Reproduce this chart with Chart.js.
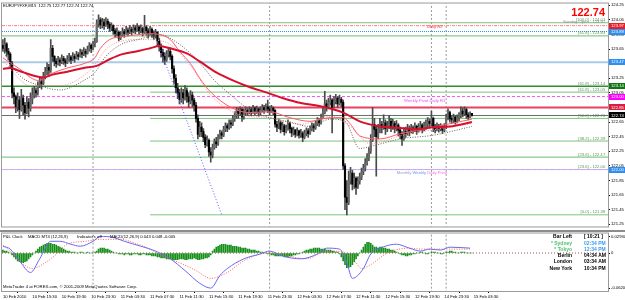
<!DOCTYPE html>
<html><head><meta charset="utf-8">
<script src="https://cdn.jsdelivr.net/npm/chart.js@4.4.1/dist/chart.umd.min.js"></script>
<style>
html,body{margin:0;padding:0;background:#fff;width:625px;height:300px;overflow:hidden}
#main{position:absolute;left:0;top:0}
#macd{position:absolute;left:0;top:230px}
</style></head><body>
<canvas id="main" width="625" height="230"></canvas>
<canvas id="macd" width="625" height="70"></canvas>
<script>
// ---------- DATA ----------
const firstOpen = 123.70;
const closes = [
123.66,123.72,123.62,123.58,123.45,123.05,123.00,122.86,
122.95,122.82,122.98,122.88,122.78,122.92,122.84,122.96,123.02,
123.08,123.05,123.15,123.20,123.18,123.28,
123.34,123.40,123.36,123.66,123.55,
123.48,123.45,123.50,123.47,123.52,123.49,123.46,123.51,123.54,123.50,123.55,123.52,123.57,123.55,123.60,123.58,123.62,123.59,123.64,
123.70,123.66,123.72,123.75,
124.00,124.05,123.98,
124.02,123.97,124.03,123.99,123.94,123.97,
123.90,123.86,123.88,123.80,123.84,123.89,123.86,123.91,123.88,123.92,
123.89,123.94,123.91,123.95,123.90,123.93,123.88,
123.95,
123.90,123.86,123.92,123.87,123.83,123.88,
123.76,123.68,123.60,123.55,123.50,
123.58,123.62,123.55,
123.38,123.25,123.12,123.05,122.96,
123.05,122.98,123.08,123.00,122.93,123.02,122.95,122.88,
122.70,122.48,122.58,
122.52,122.44,122.34,122.40,122.24,122.20,122.30,
122.38,122.35,122.44,122.50,122.47,122.55,122.60,122.57,122.64,122.62,122.70,122.74,
122.80,122.76,122.82,122.72,122.78,122.81,
122.78,122.82,122.79,122.84,122.80,122.83,122.78,122.81,122.85,122.82,122.86,122.83,122.80,122.84,122.81,
122.62,
122.58,122.64,122.55,122.60,122.52,122.57,122.63,122.56,122.50,122.54,122.48,122.53,122.47,122.50,
122.44,
122.50,122.53,122.49,122.56,122.60,122.57,122.63,122.67,122.64,122.72,122.78,122.90,122.85,122.92,
122.95,122.85,122.93,122.98,122.90,122.96,122.92,
122.05,121.62,121.55,
121.85,121.95,121.80,121.88,121.76,
121.84,121.90,121.97,122.02,122.10,122.16,122.25,
122.40,122.62,122.55,122.45,
122.55,122.62,122.58,122.64,122.56,122.60,122.66,122.59,122.63,122.57,122.61,122.54,
122.48,122.42,122.52,122.49,122.56,
122.52,122.57,122.54,122.59,122.53,122.58,122.61,122.56,122.60,
122.62,122.66,122.63,122.70,
122.58,122.55,122.60,122.56,122.59,122.54,122.58,
122.72,122.78,122.70,
122.68,122.72,122.66,122.71,122.74,
122.80,122.76,122.82,
122.75,122.72,122.77,122.74];
const highs = [
123.78,123.80,123.74,123.66,123.60,123.48,123.12,123.02,
123.05,123.00,123.10,123.02,122.92,123.00,122.97,123.05,123.12,
123.14,123.12,123.20,123.25,123.26,123.33,
123.40,123.46,123.44,123.78,123.70,
123.56,123.52,123.55,123.53,123.57,123.55,123.52,123.56,123.59,123.56,123.60,123.58,123.62,123.60,123.65,123.64,123.67,123.65,123.69,
123.74,123.72,123.76,123.80,
124.05,124.12,124.08,
124.07,124.06,124.08,124.06,124.02,124.01,
123.98,123.93,123.94,123.90,123.89,123.94,123.92,123.96,123.94,123.97,
123.95,123.98,123.97,124.00,123.97,123.98,123.95,
124.11,
123.97,123.93,123.96,123.94,123.90,123.92,
123.89,123.80,123.72,123.65,123.60,
123.63,123.67,123.66,
123.57,123.42,123.30,123.18,123.10,
123.12,123.10,123.15,123.12,123.05,123.08,123.06,122.98,
122.92,122.75,122.66,
122.64,122.56,122.48,122.46,122.42,122.30,122.35,
122.42,122.44,122.48,122.54,122.53,122.59,122.64,122.63,122.68,122.68,122.74,122.79,
122.85,122.84,122.86,122.84,122.83,122.86,
122.84,122.86,122.85,122.88,122.86,122.87,122.84,122.86,122.89,122.88,122.90,122.95,122.87,122.88,122.86,
122.82,
122.66,122.69,122.66,122.65,122.62,122.61,122.68,122.65,122.58,122.58,122.55,122.57,122.54,122.55,
122.52,
122.54,122.57,122.56,122.60,122.64,122.63,122.67,122.71,122.70,122.76,122.84,123.07,122.95,122.98,
123.02,122.97,123.00,123.03,123.00,123.02,122.99,
122.95,122.08,121.85,
121.98,122.03,121.99,121.95,121.90,
121.90,121.95,122.02,122.07,122.15,122.22,122.30,
122.48,122.85,122.70,122.60,
122.62,122.70,122.66,122.75,122.68,122.66,122.74,122.70,122.69,122.66,122.67,122.63,
122.58,122.52,122.57,122.58,122.62,
122.60,122.62,122.60,122.64,122.61,122.63,122.66,122.63,122.65,
122.68,122.71,122.69,122.80,
122.72,122.62,122.64,122.62,122.63,122.61,122.63,
122.76,122.83,122.80,
122.74,122.76,122.74,122.75,122.78,
122.86,122.84,122.86,
122.84,122.78,122.79,122.77];
const lows = [
123.62,123.60,123.55,123.50,123.40,122.98,122.90,122.78,
122.80,122.70,122.80,122.75,122.69,122.76,122.72,122.80,122.90,
122.98,122.99,123.02,123.12,123.10,123.16,
123.24,123.30,123.28,123.33,123.48,
123.42,123.40,123.43,123.42,123.45,123.44,123.41,123.45,123.48,123.45,123.49,123.47,123.51,123.50,123.54,123.53,123.56,123.54,123.58,
123.62,123.60,123.64,123.68,
123.74,123.95,123.93,
123.94,123.92,123.96,123.93,123.89,123.90,
123.85,123.82,123.83,123.76,123.78,123.82,123.81,123.85,123.83,123.86,
123.84,123.87,123.86,123.89,123.85,123.87,123.83,
123.86,
123.84,123.80,123.84,123.81,123.78,123.80,
123.70,123.62,123.54,123.47,123.44,
123.48,123.54,123.50,
123.32,123.18,123.05,122.97,122.90,
122.92,122.90,122.95,122.92,122.85,122.90,122.86,122.80,
122.65,122.42,122.45,
122.45,122.38,122.30,122.32,122.18,122.10,122.16,
122.28,122.30,122.33,122.42,122.42,122.45,122.52,122.52,122.55,122.57,122.60,122.66,
122.70,122.70,122.74,122.66,122.69,122.74,
122.74,122.76,122.74,122.77,122.75,122.77,122.73,122.75,122.79,122.77,122.80,122.78,122.75,122.78,122.75,
122.58,
122.52,122.56,122.50,122.52,122.47,122.50,122.54,122.50,122.45,122.47,122.44,122.46,122.43,122.44,
122.38,
122.42,122.46,122.44,122.48,122.53,122.52,122.55,122.60,122.59,122.62,122.70,122.76,122.80,122.83,
122.88,122.50,122.84,122.90,122.85,122.88,122.86,
122.00,121.45,121.38,
121.52,121.80,121.72,121.74,121.66,
121.74,121.80,121.86,121.93,121.98,122.06,122.12,
122.22,122.38,122.45,121.91,
122.42,122.50,122.50,122.55,122.48,122.52,122.56,122.52,122.55,122.50,122.53,122.46,
122.42,122.33,122.40,122.44,122.47,
122.46,122.50,122.49,122.52,122.48,122.51,122.54,122.50,122.53,
122.55,122.58,122.57,122.60,
122.52,122.50,122.53,122.51,122.53,122.49,122.52,
122.56,122.68,122.65,
122.63,122.64,122.62,122.64,122.67,
122.71,122.72,122.74,
122.70,122.68,122.71,122.73];

// moving averages (at these bars)
const maSlowBars = [0,4,9,16,22,27,35,44,51,58,65,73,80,85,91,100,107,116,125,134,144,152,162,172,185,194,205,216,225,234,243,255];
const maSlowVals = [123.38,123.39,123.35,123.29,123.26,123.30,123.34,123.39,123.42,123.51,123.58,123.62,123.66,123.69,123.66,123.59,123.48,123.33,123.22,123.13,123.05,122.98,122.91,122.87,122.78,122.66,122.59,122.57,122.55,122.58,122.59,122.65];
const maFastBars = [0,4,9,15,19,26,35,44,50,53,58,65,75,80,85,91,96,102,107,113,124,134,145,156,167,178,185,189,194,205,216,234,255];
const maFastVals = [123.53,123.46,123.38,123.26,123.22,123.31,123.39,123.45,123.53,123.66,123.78,123.82,123.85,123.86,123.85,123.78,123.62,123.45,123.25,123.06,122.85,122.78,122.79,122.71,122.66,122.71,122.71,122.62,122.46,122.42,122.49,122.58,122.69];
const maGreyBars = [0,9,20,31,44,50,56,64,75,85,94,102,107,115,124,134,145,156,167,178,186,194,202,216,234,255];
const maGreyVals = [123.62,123.29,123.15,123.09,123.22,123.33,123.55,123.71,123.79,123.85,123.75,123.59,123.46,123.22,123.02,122.82,122.71,122.65,122.59,122.69,122.66,122.29,122.33,122.42,122.47,122.59];
const maPinkBars = [0,15,31,47,58,75,88,102,113,129,145,162,178,189,200,216,255];
const maPinkVals = [123.49,123.15,123.15,123.35,123.69,123.78,123.75,123.42,123.02,122.75,122.71,122.62,122.73,122.59,122.35,122.46,122.63];

// horizontal levels
const levelPrices = [123.97,123.89,123.83,123.47,123.14,123.00,122.85,122.74,122.17,122.00];
const fiboPrices = [124.01,123.06,122.70,122.39,122.00,121.38];
const fiboStartBar = 80;
const fiboLabelValues = [124.01,123.83,123.14,123.06,122.70,122.39,122.17,122.00,121.38];
const fiboLabelTexts = ['[100.0] - 124.01','[61.8] - 123.83','[61.8] - 123.14','[61.8] - 123.05','[50.0] - 122.70','[38.2] - 122.39','[23.6] - 122.17','[23.6] - 122.00','[0.0] - 121.38'];
const boxValues = [123.97,123.89,123.47,123.14,123.00,122.85,122.74,122.00];
const boxTexts = ['123.97','123.89','123.47','123.14','123.00','122.85','122.74','122.00'];
const trendBars = [84,119];
const trendPrices = [123.75,121.38];
const sepBars = [49,145,233,241];

const priceTicks = [124.25,124.05,123.85,123.65,123.45,123.25,123.05,122.85,122.65,122.45,122.25,122.05,121.85,121.65,121.45,121.25];
const timeTickBars = [0,16,32,48,64,80,96,112,128,144,160,176,192,208,224,240,256];
const timeLabels = ['10 Feb 2010','10 Feb 15:30','10 Feb 19:30','10 Feb 23:30','11 Feb 03:30','11 Feb 07:30','11 Feb 11:30','11 Feb 15:30','11 Feb 19:30','11 Feb 23:30','12 Feb 03:30','12 Feb 07:30','12 Feb 11:30','12 Feb 15:30','12 Feb 19:30','14 Feb 23:30','15 Feb 03:30'];

// MACD
const macdHist = [
0.0052,0.0034,0.0034,0.0017,0,
-0.0034,-0.0069,-0.0103,-0.0138,-0.0155,-0.0172,-0.0172,-0.0155,-0.0138,-0.0103,-0.0069,-0.0034,
0,0.0034,0.0069,0.0103,0.012,0.0138,0.0155,0.0172,0.0172,0.0172,0.0155,0.0155,0.0138,0.012,0.0103,0.0086,0.0069,0.0052,0.0034,
0.0034,0.0017,0.0017,0.0017,0,0,0.0017,0.0017,0,0,0.0017,0,0,0,0.0017,
0.0034,0.0069,0.0086,0.0086,0.0086,0.0069,0.0069,0.0052,0.0034,0.0017,
0,0,-0.0017,-0.0017,-0.0017,-0.0034,-0.0017,-0.0017,-0.0034,-0.0034,-0.0017,-0.0017,-0.0017,-0.0034,-0.0034,-0.0017,-0.0017,-0.0034,-0.0034,-0.0034,-0.0052,-0.0052,-0.0052,-0.0069,-0.0069,
-0.0086,-0.0086,-0.0086,-0.0103,-0.0103,-0.0103,-0.012,-0.012,-0.012,-0.012,-0.0103,-0.0103,-0.0103,-0.012,-0.012,-0.0103,-0.0103,-0.0103,-0.0086,-0.0103,-0.012,-0.012,-0.0103,-0.0103,-0.0086,-0.0086,-0.0069,-0.0034,
0.0034,0.0069,0.0103,0.012,0.0138,0.0155,0.0155,0.0155,0.0138,0.0138,0.0138,0.012,0.012,0.012,0.0103,0.0103,0.0086,0.0086,0.0086,0.0069,0.0069,0.0052,0.0052,0.0052,0.0034,0.0034,0.0017,
0.0017,0,0,-0.0017,-0.0017,-0.0034,-0.0034,-0.0052,-0.0052,-0.0052,
-0.0052,-0.0052,-0.0069,-0.0069,-0.0069,-0.0052,-0.0052,-0.0034,-0.0034,-0.0017,-0.0017,0,
0.0017,0.0034,0.0052,0.0052,0.0069,0.0069,0.0086,0.0086,0.0086,0.0086,0.0069,0.0069,0.0069,0.0052,0.0052,0.0052,0.0034,0.0034,0.0017,0.0017,
-0.0017,-0.0069,-0.0138,-0.0207,-0.0258,-0.0258,-0.0241,-0.0207,-0.0155,
-0.0103,-0.0052,0,0.0052,0.0103,0.0155,0.0189,0.0189,
0.0172,0.0138,0.0103,0.0103,0.0086,0.0103,0.0103,0.0086,0.0086,0.0069,0.0069,0.0052,0.0052,
0.0034,0.0017,0,-0.0017,-0.0034,-0.0034,-0.0052,-0.0052,-0.0034,-0.0034,-0.0017,-0.0017,0,
0,0.0017,0.0017,0,-0.0017,-0.0017,0,0.0017,0.0017,0.0017,0,0,-0.0017,-0.0017,0,0.0017,0.0017,0.0034,0.0034,0.0017,0.0017,0,0,0.0017,0.0017,0.0017,0,0,0,0];
const macdBars = [0,4,9,15,20,26,31,37,42,49,53,60,66,75,83,91,99,107,113,118,122,131,140,145,152,162,171,176,183,187,190,196,200,208,214,221,227,232,238,243,254];
const macdMain = [0.012,0.0069,-0.0138,-0.0344,-0.0103,0.0207,0.0207,0.0155,0.012,0.0207,0.0293,0.0275,0.0207,0.012,0.0034,-0.0103,-0.031,-0.0534,-0.062,-0.0396,-0.0275,-0.0103,-0.0017,0.0034,-0.0052,-0.0103,-0.0017,0.0086,0.0069,-0.0172,-0.0448,-0.0275,-0.0017,0.012,0.0155,0.0086,0.0034,0.0069,0.0052,0.0103,0.0086];
const signalBars = [0,4,9,16,23,28,35,45,53,64,72,80,88,96,105,113,122,131,144,155,165,176,185,192,195,200,209,221,227,238,254];
const signalVals = [0.0138,0.0034,-0.0138,-0.0275,-0.0172,-0.0052,0.0155,0.0207,0.0241,0.0241,0.0172,0.0069,-0.0069,-0.0172,-0.031,-0.0448,-0.0344,-0.0138,0,-0.0052,-0.0103,0.0034,0.0017,-0.0172,-0.0275,-0.0207,0,0.0086,0.0069,0.0069,0.0069];
const macdTicks = [0.0293,0,-0.062];
const macdTickLabels = ['0.029300','0','-0.062000'];

const cityNames = ['Bar Left','* Sydney','* Tokyo','Berlin','London','New York'];
const cityTimes = ['[ 10:21 ]','02:34 PM','12:34 PM','04:34 AM','03:34 AM','10:34 PM'];

// ---------- BUILD ----------
const FONT = '"Liberation Sans", Arial, sans-serif';
const X_MIN = -0.5, X_MAX = 329;
const opens = closes.map((c, i) => i === 0 ? firstOpen : closes[i - 1]);
const wickData = closes.map((c, i) => ({x: i, y: [Math.min(lows[i], opens[i], c), Math.max(highs[i], opens[i], c)]}));
const bodyData = closes.map((c, i) => ({x: i, y: [Math.min(opens[i], c), Math.max(opens[i], c)]}));
const bodyColors = closes.map((c, i) => c >= opens[i] ? '#6a6a6a' : '#000000');
const pts = (bars, vals) => bars.map((b, k) => ({x: b, y: vals[k]}));
const hline = (p, from) => [{x: from, y: p}, {x: X_MAX, y: p}];

const levelStyles = [
  {c:'#ff7b8a', w:1, d:[3,1,1,1]},
  {c:'#3d8ef0', w:1, d:[1,1]},
  {c:'#6cbf6c', w:1, d:[]},
  {c:'#a9cbe6', w:2, d:[]},
  {c:'#2f8f2f', w:1.5, d:[]},
  {c:'#ff55ff', w:1, d:[3,2]},
  {c:'#e8405e', w:2, d:[]},
  {c:'#6a6a6a', w:1, d:[]},
  {c:'#6cbf6c', w:1, d:[]},
  {c:'#ff99ee', w:1, d:[3,3]}
];
const boxStyles = ['#ee1c24','#2b8ef0','#2b8ef0','#117711','#ff00ff','#d81e40','#000000','#2b8ef0'];

const lineDs = (data, color, width, dash, order, extra) => Object.assign({
  type: 'line', data, borderColor: color, borderWidth: width, borderDash: dash,
  pointRadius: 0, fill: false, order, tension: 0
}, extra || {});

const mainDatasets = [];
mainDatasets.push(lineDs(pts(maSlowBars, maSlowVals), '#d8102e', 2, [], 0, {cubicInterpolationMode: 'monotone'}));
mainDatasets.push(lineDs(pts(maFastBars, maFastVals), '#ff5a6a', 1, [], 0, {cubicInterpolationMode: 'monotone'}));
mainDatasets.push(lineDs(pts(maGreyBars, maGreyVals), '#606060', 1, [1,1.5], 0, {cubicInterpolationMode: 'monotone'}));
mainDatasets.push(lineDs(pts(maPinkBars, maPinkVals), '#ff8d8d', 1, [1,1.5], 0, {cubicInterpolationMode: 'monotone'}));
mainDatasets.push(lineDs(pts(trendBars, trendPrices), '#5a5aff', 1, [1,2], 1));
mainDatasets.push({type: 'bar', data: bodyData, backgroundColor: bodyColors, barThickness: 1.5, grouped: false, order: 2});
mainDatasets.push({type: 'bar', data: wickData, backgroundColor: '#4a4a4a', barThickness: 1, grouped: false, order: 3});
levelPrices.forEach((p, k) => {
  const s = levelStyles[k];
  mainDatasets.push(lineDs(hline(p, X_MIN), s.c, s.w, s.d, 4));
});
mainDatasets.push(lineDs(hline(levelPrices[9], X_MIN), '#99bbff', 1, [3,3], 4, {borderDashOffset: 3}));
fiboPrices.forEach(p => mainDatasets.push(lineDs(hline(p, fiboStartBar), '#7cc47c', 1, [], 4)));
sepBars.forEach(b => mainDatasets.push(lineDs([{x: b, y: 121.2}, {x: b, y: 124.3}], '#9a9a9a', 1, [2,2], 5)));

function txt(ctx, s, x, y, font, color, align, base) {
  ctx.font = font; ctx.fillStyle = color;
  ctx.textAlign = align || 'left'; ctx.textBaseline = base || 'middle';
  ctx.fillText(s, x, y);
}

const mainOverlay = {
  id: 'mainOverlay',
  beforeDraw(chart) {
    const c = chart.ctx; c.save(); c.fillStyle = '#fff'; c.fillRect(0, 0, chart.width, chart.height); c.restore();
  },
  afterDraw(chart) {
    const ctx = chart.ctx, a = chart.chartArea, xs = chart.scales.x, ys = chart.scales.y;
    ctx.save();
    ctx.strokeStyle = '#9a9a9a'; ctx.lineWidth = 1;
    ctx.strokeRect(a.left - 0.5, a.top - 0.5, a.right - a.left + 1, a.bottom - a.top + 1);
    const small = '4.2px ' + FONT;
    // fibo labels
    const fx = xs.getPixelForValue(327.5);
    fiboLabelValues.forEach((v, k) => txt(ctx, fiboLabelTexts[k], fx, ys.getPixelForValue(v) - 0.5, small, '#5c965c', 'right', 'bottom'));
    // pivot texts
    txt(ctx, 'Daily R2', xs.getPixelForValue(230.5), ys.getPixelForValue(123.955), small, '#ff3030', 'left');
    txt(ctx, 'Weekly Pivot Daily R1', xs.getPixelForValue(240.5), ys.getPixelForValue(122.94), small, '#ff40ff', 'right');
    {
      const parts = [['Monthly ', '#9a9ac8'], ['Weekly ', '#6d8ff0'], ['Daily Pivot', '#ff66dd']];
      ctx.font = small;
      let total = parts.reduce((s, p) => s + ctx.measureText(p[0]).width, 0);
      let px = xs.getPixelForValue(241.5) - total;
      const py = ys.getPixelForValue(121.955);
      parts.forEach(p => { txt(ctx, p[0], px, py, small, p[1], 'left'); px += ctx.measureText(p[0]).width; });
    }
    // caption
    txt(ctx, 'EURJPYFXF,M15  122.75 122.77 122.74 122.74', 3, 5.5, small, '#000', 'left');
    txt(ctx, 'Sunday Open - 123.97', fx, 21.5, small, '#8a8a8a', 'right');
    txt(ctx, '122.74', 605, 13, 'bold 11px ' + FONT, '#ff0000', 'right');
    // right axis boxes
    boxValues.forEach((v, k) => {
      const py = ys.getPixelForValue(v);
      ctx.fillStyle = boxStyles[k];
      ctx.fillRect(a.right + 1, Math.round(py) - 3, 17, 6);
      txt(ctx, boxTexts[k], a.right + 3, py, small, '#ffffff', 'left');
    });
    ctx.restore();
  }
};

new Chart(document.getElementById('main'), {
  type: 'line',
  data: {datasets: mainDatasets},
  options: {
    responsive: false, animation: false, devicePixelRatio: 1, events: [],
    layout: {padding: {left: 2, top: 1, right: 0, bottom: 0}},
    plugins: {legend: {display: false}, tooltip: {enabled: false}},
    scales: {
      x: {type: 'linear', min: X_MIN, max: X_MAX, offset: false, display: false},
      y: {
        position: 'right', min: 121.2203, max: 124.2733,
        afterFit(ax) { ax.width = 17; },
        afterBuildTicks(ax) { ax.ticks = priceTicks.map(v => ({value: v})); },
        ticks: {font: {size: 4.2, family: FONT}, color: '#000', padding: 1, autoSkip: false, callback: v => Number(v).toFixed(2)},
        grid: {display: true, drawOnChartArea: false, tickLength: 2, color: '#000'},
        border: {display: true, color: '#666'}
      }
    }
  },
  plugins: [mainOverlay]
});

// ---------- MACD ----------
const macdDatasets = [
  lineDs(pts(macdBars, macdMain), '#6a6af0', 1, [], 0, {cubicInterpolationMode: 'monotone'}),
  lineDs(pts(signalBars, signalVals), '#ff6060', 1, [1,1.5], 0, {cubicInterpolationMode: 'monotone'}),
  {type: 'bar', data: macdHist.map((v, i) => ({x: i, y: v})), backgroundColor: '#14901a', barThickness: 1, grouped: false, order: 2},
  lineDs(hline(0, X_MIN), '#a05050', 1, [1,2], 3)
];
sepBars.forEach(b => macdDatasets.push(lineDs([{x: b, y: -0.07}, {x: b, y: 0.04}], '#9a9a9a', 1, [2,2], 5)));

const macdOverlay = {
  id: 'macdOverlay',
  beforeDraw(chart) {
    const c = chart.ctx; c.save(); c.fillStyle = '#fff'; c.fillRect(0, 0, chart.width, chart.height); c.restore();
  },
  afterDraw(chart) {
    const ctx = chart.ctx, a = chart.chartArea;
    ctx.save();
    ctx.fillStyle = '#8c8c8c'; ctx.fillRect(0, 0, chart.width, 2);
    ctx.strokeStyle = '#9a9a9a'; ctx.lineWidth = 1;
    ctx.strokeRect(a.left - 0.5, a.top - 0.5, a.right - a.left + 1, a.bottom - a.top + 1);
    const small = '4.2px ' + FONT;
    txt(ctx, 'P&L Clock', 3, 7, small, '#000');
    txt(ctx, 'MACD MT4 (12,26,9)', 28, 7, small, '#000');
    txt(ctx, "Indicator's off", 77, 7, small, '#000');
    txt(ctx, 'MACD(12,26,9) 0.043 0.048 -0.005', 110, 7, small, '#000');
    txt(ctx, 'MetaTrader 4 at FOREX.com, \u00a9 2001-2009 MetaQuotes Software Corp.', 3, 57, small, '#000');
    const rowY = [7, 13.5, 19.5, 26, 32, 38.5];
    const nameCol = ['#000', '#4cc46a', '#4cc46a', '#000', '#000', '#000'];
    const timeCol = ['#000', '#3a9cf5', '#3a9cf5', '#000', '#000', '#000'];
    const bold = 'bold 5px ' + FONT;
    cityNames.forEach((n, k) => {
      txt(ctx, n, 572, rowY[k], bold, nameCol[k], 'right');
      txt(ctx, cityTimes[k], 584, rowY[k], bold, timeCol[k], 'left');
    });
    ctx.restore();
  }
};

new Chart(document.getElementById('macd'), {
  type: 'line',
  data: {datasets: macdDatasets},
  options: {
    responsive: false, animation: false, devicePixelRatio: 1, events: [],
    layout: {padding: {left: 2, top: 2, right: 0, bottom: 0}},
    plugins: {legend: {display: false}, tooltip: {enabled: false}},
    scales: {
      x: {
        type: 'linear', min: X_MIN, max: X_MAX, offset: false, position: 'bottom',
        afterFit(ax) { ax.height = 9; },
        afterBuildTicks(ax) { ax.ticks = timeTickBars.map(v => ({value: v})); },
        ticks: {font: {size: 4.2, family: FONT}, color: '#000', align: 'start', maxRotation: 0, minRotation: 0, autoSkip: false, padding: 1,
                callback: (v, i) => timeLabels[i]},
        grid: {display: true, drawOnChartArea: false, tickLength: 2, color: '#000'},
        border: {display: true, color: '#666'}
      },
      y: {
        position: 'right', min: -0.06713, max: 0.03442,
        afterFit(ax) { ax.width = 17; },
        afterBuildTicks(ax) { ax.ticks = macdTicks.map(v => ({value: v})); },
        ticks: {font: {size: 4.2, family: FONT}, color: '#000', padding: 1, autoSkip: false, callback: (v, i) => macdTickLabels[i]},
        grid: {display: true, drawOnChartArea: false, tickLength: 2, color: '#000'},
        border: {display: true, color: '#666'}
      }
    }
  },
  plugins: [macdOverlay]
});
</script></body></html>
